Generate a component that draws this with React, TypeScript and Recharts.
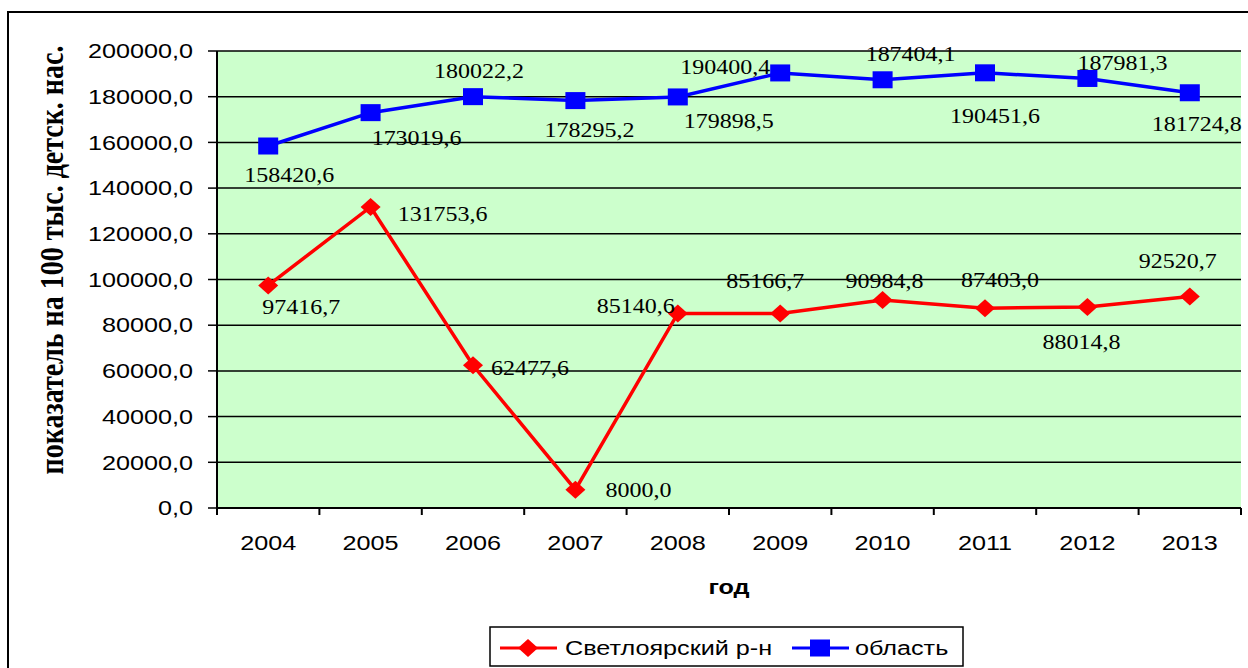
import { LineChart, Line, XAxis, YAxis, CartesianGrid, LabelList } from "recharts";

const years = ["2004", "2005", "2006", "2007", "2008", "2009", "2010", "2011", "2012", "2013"];
const svetloyarsky = [97416.7, 131753.6, 62477.6, 8000.0, 85140.6, 85166.7, 90984.8, 87403.0, 88014.8, 92520.7];
const oblast = [158420.6, 173019.6, 180022.2, 178295.2, 179898.5, 190400.4, 187404.1, 190451.6, 187981.3, 181724.8];
const yTicks = [0, 20000, 40000, 60000, 80000, 100000, 120000, 140000, 160000, 180000, 200000];

// where each value label sits relative to its marker (px), as in the original
const svetLabelShift = [[33, 22], [72, 7], [57, 3], [63, 0], [-42, -7], [-15, -32], [2, -19], [15, -28], [-6, 35], [-12, -35]];
const oblastLabelShift = [[21, 29], [46, 26], [6, -25], [14, 30], [51, 24], [-55, -6], [28, -26], [10, 43], [35, -15], [7, 31]];

const data = years.map((year, i) => ({ year, svet: svetloyarsky[i], obl: oblast[i] }));

const SANS = "'Liberation Sans', Arial, sans-serif";
const SERIF = "'Liberation Serif', 'Times New Roman', serif";
const STRETCH = "scale(1.2,1)";
const STEP = 102.4; // width of one year on the axis

const fmt = (v: number) => v.toFixed(1).replace(".", ",");

function Diamond({ cx, cy }: any) {
  return <polygon points={`${cx},${cy - 9} ${cx + 10},${cy} ${cx},${cy + 9} ${cx - 10},${cy}`} fill="#ff0000" />;
}

function Square({ cx, cy }: any) {
  return <rect x={cx - 10} y={cy - 8.5} width={20} height={17} fill="#0000ff" />;
}

function YearTick({ x, y, payload, index }: any) {
  return (
    <g>
      <line x1={x - STEP / 2} x2={x - STEP / 2} y1={y} y2={y + 7} stroke="#000" strokeWidth={2} />
      {index === years.length - 1 && (
        <line x1={x + STEP / 2} x2={x + STEP / 2} y1={y} y2={y + 7} stroke="#000" strokeWidth={2} />
      )}
      <text transform={`translate(${x},${y + 35}) ${STRETCH}`} textAnchor="middle" dominantBaseline="central"
        fontFamily={SANS} fontSize={21} fill="#000">
        {payload.value}
      </text>
    </g>
  );
}

function ValueTick({ x, y, payload }: any) {
  return (
    <text transform={`translate(${x},${y}) ${STRETCH}`} textAnchor="end" dominantBaseline="central"
      fontFamily={SANS} fontSize={21} fill="#000">
      {fmt(payload.value)}
    </text>
  );
}

const valueLabel = (shifts: number[][]) => (props: any) => {
  const { x, y, value, index } = props;
  const [dx, dy] = shifts[index];
  return (
    <text transform={`translate(${x + dx},${y + dy}) ${STRETCH}`} textAnchor="middle" dominantBaseline="central"
      fontFamily={SERIF} fontSize={20} fill="#000">
      {fmt(value)}
    </text>
  );
};

const YTitle = () => (
  <text transform={`translate(43,247) ${STRETCH} rotate(-90)`} textAnchor="middle" dominantBaseline="central"
    fontFamily={SERIF} fontWeight="bold" fontSize={28} fill="#000">
    показатель на 100 тыс. детск. нас.
  </text>
);

const XTitle = () => (
  <text transform={`translate(720,574) ${STRETCH}`} textAnchor="middle" dominantBaseline="central"
    fontFamily={SANS} fontWeight="bold" fontSize={21} fill="#000">
    год
  </text>
);

export default function App() {
  return (
    <div style={{ position: "fixed", left: 0, top: 0, width: 1248, height: 668, overflow: "hidden", background: "#fff" }}>
      <div style={{ position: "absolute", left: 7, top: 11, width: 1262, height: 680, border: "2px solid #000" }}>
        <LineChart width={1245} height={655} data={data} margin={{ top: 38, right: 13, left: 0, bottom: 0 }}>
          <CartesianGrid vertical={false} fill="#ccffcc" stroke="#000" strokeWidth={1.5} />
          <XAxis dataKey="year" scale="band" interval={0} height={160} tickLine={false} tickSize={0} tickMargin={0}
            axisLine={{ stroke: "#000", strokeWidth: 2 }} tick={<YearTick />} label={XTitle} />
          <XAxis xAxisId="top" orientation="top" dataKey="year" height={0} tick={false} tickLine={false}
            axisLine={{ stroke: "#808080", strokeWidth: 2 }} />
          <YAxis domain={[0, 200000]} ticks={yTicks} interval={0} width={208} tickSize={9} tickMargin={15}
            axisLine={{ stroke: "#000", strokeWidth: 2 }} tickLine={{ stroke: "#000", strokeWidth: 1.5 }}
            tick={<ValueTick />} label={YTitle} />
          <YAxis yAxisId="right" orientation="right" width={0} domain={[0, 1]} tick={false} tickLine={false}
            axisLine={{ stroke: "#808080", strokeWidth: 2 }} />
          <Line dataKey="obl" name="область" stroke="#0000ff" strokeWidth={3.5} isAnimationActive={false}
            dot={(p: any) => <Square key={`o${p.index}`} cx={p.cx} cy={p.cy} />}>
            <LabelList dataKey="obl" content={valueLabel(oblastLabelShift)} />
          </Line>
          <Line dataKey="svet" name="Светлоярский р-н" stroke="#ff0000" strokeWidth={3.5} isAnimationActive={false}
            dot={(p: any) => <Diamond key={`s${p.index}`} cx={p.cx} cy={p.cy} />}>
            <LabelList dataKey="svet" content={valueLabel(svetLabelShift)} />
          </Line>
        </LineChart>
        <svg width={476} height={42} style={{ position: "absolute", left: 480, top: 613 }}>
          <rect x={1} y={1} width={473} height={39} fill="#fff" stroke="#000" strokeWidth={1.5} />
          <line x1={11} x2={68} y1={22} y2={22} stroke="#ff0000" strokeWidth={3} />
          <Diamond cx={39} cy={22} />
          <text transform={`translate(76,22) ${STRETCH}`} dominantBaseline="central" fontFamily={SANS} fontSize={21} fill="#000">
            Светлоярский р-н
          </text>
          <line x1={303} x2={360} y1={22} y2={22} stroke="#0000ff" strokeWidth={3} />
          <Square cx={331} cy={22} />
          <text transform={`translate(366,22) ${STRETCH}`} dominantBaseline="central" fontFamily={SANS} fontSize={21} fill="#000">
            область
          </text>
        </svg>
      </div>
    </div>
  );
}
